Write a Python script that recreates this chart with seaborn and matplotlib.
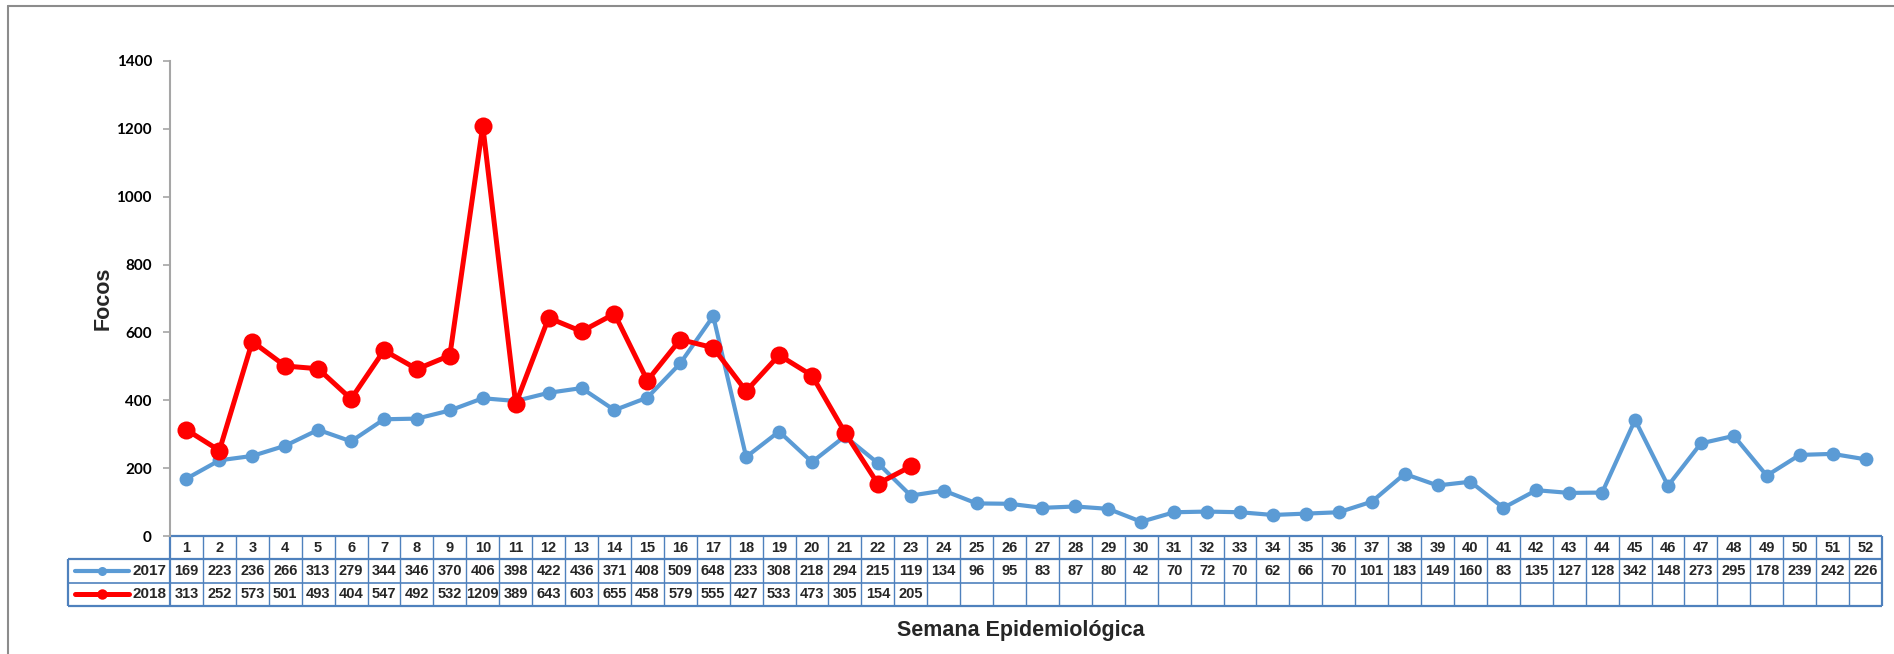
import numpy as np
import pandas as pd
import matplotlib
matplotlib.use("Agg")
import matplotlib.pyplot as plt
import matplotlib.transforms as mtransforms
from matplotlib.lines import Line2D
import seaborn as sns

weeks = list(range(1, 53))
vals_2017 = [169, 223, 236, 266, 313, 279, 344, 346, 370, 406, 398, 422, 436, 371, 408, 509,
             648, 233, 308, 218, 294, 215, 119, 134, 96, 95, 83, 87, 80, 42, 70, 72, 70, 62,
             66, 70, 101, 183, 149, 160, 83, 135, 127, 128, 342, 148, 273, 295, 178, 239, 242, 226]
vals_2018 = [313, 252, 573, 501, 493, 404, 547, 492, 532, 1209, 389, 643, 603, 655, 458, 579,
             555, 427, 533, 473, 305, 154, 205]
series_names = ["2017", "2018"]
y_ticks = [0, 200, 400, 600, 800, 1000, 1200, 1400]

c17 = "#5B9BD5"
c18 = "#FF0000"
tbl_col = "#4F81BD"

sns.set_theme(style="white")
plt.rcParams['font.family'] = ['Liberation Sans', 'DejaVu Sans']

fig = plt.figure(figsize=(18.94, 6.54), dpi=100)
W, H = 1894, 654
ax_l, ax_r, ax_t, ax_b = 170, 1882, 61, 536
ax = fig.add_axes([ax_l / W, (H - ax_b) / H, (ax_r - ax_l) / W, (ax_b - ax_t) / H])

df17 = pd.DataFrame({"week": weeks, "focos": vals_2017})
df18 = pd.DataFrame({"week": weeks[:len(vals_2018)], "focos": vals_2018})
sns.lineplot(data=df17, x="week", y="focos", color=c17, lw=3.0, marker="o", ms=10,
             markeredgewidth=0, ax=ax, zorder=3)
sns.lineplot(data=df18, x="week", y="focos", color=c18, lw=3.6, marker="o", ms=13,
             markeredgewidth=0, ax=ax, zorder=4)

ax.set_xlim(0.5, 52.5)
ax.set_ylim(0, 1400)
ax.set_yticks(y_ticks)
ax.set_yticklabels([str(v) for v in y_ticks], fontweight="bold", fontsize=11,
                   family=['Lato', 'DejaVu Sans'])
ax.set_xticks([])
for s in ["top", "right", "bottom"]:
    ax.spines[s].set_visible(False)
ax.spines["left"].set_color("#A6A6A6")
ax.spines["left"].set_linewidth(1.5)
ax.tick_params(axis="y", which="both", left=True, length=5, width=1.2, color="#A6A6A6",
               pad=8, labelcolor="black")
ax.set_xlabel("Semana Epidemiológica", fontsize=15.5, fontweight="bold")
ax.xaxis.set_label_coords(0.497, -0.177)
ax.set_ylabel("Focos", fontsize=15.5, fontweight="bold")
ax.yaxis.set_label_coords(-0.033, 0.5)

# Data table below the axes
trans = mtransforms.blended_transform_factory(ax.transData, ax.transAxes)
rh = 23.3 / (ax_b - ax_t)
y0, y1, y2, y3 = 0, -rh, -2 * rh, -3 * rh
leg_left = -102 / (ax_r - ax_l)

kw = dict(clip_on=False, color=tbl_col, solid_capstyle="butt")
ax.plot([0.5, 52.5], [y0, y0], transform=trans, lw=1.6, **kw)
for yy in [y1, y2, y3]:
    ax.plot([leg_left, 1], [yy, yy], transform=ax.transAxes, lw=1.6 if yy in (y1, y3) else 1.2, **kw)
for i in range(0, 53):
    xb = 0.5 + i
    lw = 1.6 if i in (0, 52) else 1.0
    ax.plot([xb, xb], [y0, y3], transform=trans, lw=lw, **kw)
ax.plot([leg_left, leg_left], [y1, y3], transform=ax.transAxes, lw=1.6, **kw)

tkw = dict(transform=trans, ha="center", va="center", fontsize=10.5, fontweight="bold",
           clip_on=False)
for i, w in enumerate(weeks):
    ax.text(w, (y0 + y1) / 2, str(w), **tkw)
    ax.text(w, (y1 + y2) / 2, str(vals_2017[i]), **tkw)
    if i < len(vals_2018):
        ax.text(w, (y2 + y3) / 2, str(vals_2018[i]), **tkw)

axw = ax_r - ax_l
for name, col, yc, lw, ms in [(series_names[0], c17, (y1 + y2) / 2, 3.0, 6.5),
                              (series_names[1], c18, (y2 + y3) / 2, 3.6, 7.5)]:
    xs = [(75 - ax_l) / axw, (129 - ax_l) / axw]
    ax.add_line(Line2D(xs, [yc, yc], transform=ax.transAxes, color=col, lw=lw,
                       clip_on=False))
    ax.add_line(Line2D([(xs[0] + xs[1]) / 2], [yc], transform=ax.transAxes, color=col,
                       marker="o", ms=ms, markeredgewidth=0, clip_on=False))
    ax.text((166 - ax_l) / axw, yc, name, transform=ax.transAxes, ha="right", va="center",
            fontsize=11, fontweight="bold", clip_on=False)

fig.add_artist(Line2D([8 / W, 8 / W], [0, 1 - 6 / H], transform=fig.transFigure,
                      color="#8C8C8C", lw=1.5))
fig.add_artist(Line2D([8 / W, 1], [1 - 6 / H, 1 - 6 / H], transform=fig.transFigure,
                      color="#8C8C8C", lw=1.5))

fig.savefig("out.png", dpi=100, facecolor="white")
